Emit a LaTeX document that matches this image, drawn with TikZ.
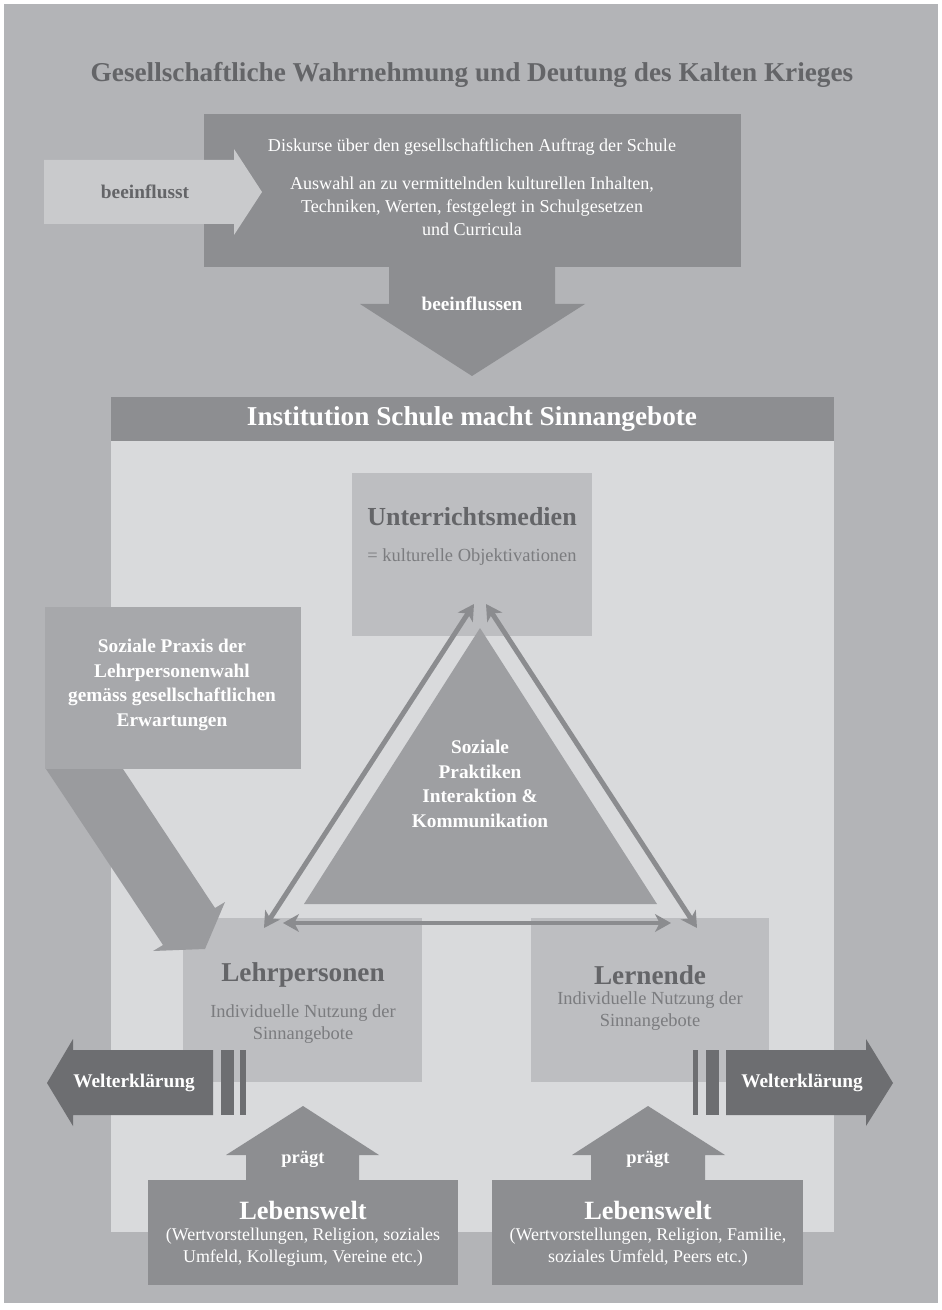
\documentclass[tikz,border=0pt]{standalone}
\usepackage{fontspec}
\setmainfont{Liberation Serif}
\usetikzlibrary{arrows.meta}

\definecolor{bgouter}{HTML}{B3B4B7}
\definecolor{bgpanel}{HTML}{D9DADC}
\definecolor{darkbox}{HTML}{8D8E91}
\definecolor{lightarrow}{HTML}{C9CACC}
\definecolor{midbox}{HTML}{BDBEC1}
\definecolor{praxisbox}{HTML}{A7A8AB}
\definecolor{praxisarrow}{HTML}{9A9B9E}
\definecolor{tribox}{HTML}{9E9FA2}
\definecolor{thinarrow}{HTML}{8B8C8F}
\definecolor{weltbox}{HTML}{6D6E71}
\definecolor{greytext}{HTML}{646568}

\tikzset{
  txt/.style={inner sep=0pt, align=center},
  whitebig/.style={txt, text=white, font=\bfseries\fontsize{15.5}{18}\selectfont},
  whitemid/.style={txt, text=white, font=\bfseries\fontsize{11}{14}\selectfont},
  whitesmall/.style={txt, text=white, font=\fontsize{10.3}{13}\selectfont},
  greybig/.style={txt, text=greytext, font=\bfseries\fontsize{14.8}{17}\selectfont},
  greysmall/.style={txt, text=greytext!85!white, font=\fontsize{10.5}{12.5}\selectfont},
  thinarr/.style={draw=thinarrow, line width=2.8pt,
    {Stealth[length=9pt,width=10pt,inset=2.5pt]}-{Stealth[length=9pt,width=10pt,inset=2.5pt]}}
}

\begin{document}
\begin{tikzpicture}[x=0.02cm,y=-0.02cm]
\useasboundingbox (0,0) rectangle (941,1310);
\fill[white] (0,0) rectangle (941,1310);
\fill[bgouter] (4,4) rectangle (938,1303);

\node[txt, text=greytext, font=\bfseries\fontsize{15.5}{18}\selectfont] (title) at (472,75)
  {Gesellschaftliche Wahrnehmung und Deutung des Kalten Krieges};

% Diskurse
\fill[darkbox] (204,114) rectangle (741,267);
\node[whitesmall] (diskurs) at (472,147) {Diskurse über den gesellschaftlichen Auftrag der Schule};
\node[whitesmall] (auswahl) at (472,206) {Auswahl an zu vermittelnden kulturellen Inhalten,\\
  Techniken, Werten, festgelegt in Schulgesetzen\\ und Curricula};

\fill[lightarrow] (44,160) -- (234,160) -- (234,149) -- (262,192) -- (234,235) -- (234,224) -- (44,224) -- cycle;
\node[txt, text=greytext, font=\bfseries\fontsize{11}{13}\selectfont] (beeinflusst) at (145,192) {beeinflusst};

\fill[darkbox] (389,266) -- (555,266) -- (555,304) -- (585,304) -- (472,376) -- (360,304) -- (389,304) -- cycle;
\node[whitemid] (beeinflussen) at (472,304) {beeinflussen};

% Institution Schule
\fill[bgpanel] (111,441) rectangle (834,1232);
\fill[darkbox] (111,397) rectangle (834,441);
\node[whitebig] (schule) at (472,419) {Institution Schule macht Sinnangebote};

\fill[midbox] (352,473) rectangle (592,636);
\node[greybig] (medien) at (472,517) {Unterrichtsmedien};
\node[greysmall] (medienSub) at (472,557) {= kulturelle Objektivationen};

\fill[midbox] (183,918) rectangle (422,1082);
\node[greybig, font=\bfseries\fontsize{15.5}{18}\selectfont] (lehr) at (303,975) {Lehrpersonen};
\node[greysmall] (lehrSub) at (303,1024) {Individuelle Nutzung der\\ Sinnangebote};

\fill[midbox] (531,918) rectangle (769,1082);
\node[greybig, font=\bfseries\fontsize{15.5}{18}\selectfont] (lern) at (650,975) {Lernende};
\node[greysmall] (lernSub) at (650,1011) {Individuelle Nutzung der\\ Sinnangebote};

\fill[praxisbox] (45,607) rectangle (301,769);
\node[whitemid] (praxis) at (172,685) {Soziale Praxis der\\ Lehrpersonenwahl\\ gemäss gesellschaftlichen\\ Erwartungen};
\fill[praxisarrow] (46,769) -- (123,769) -- (215,908) -- (225,902) -- (205,949) -- (153,951) -- (163,945) -- cycle;

\coordinate (apex) at (480,628);
\coordinate (baseL) at (304,904);
\coordinate (baseR) at (657,904);
\fill[tribox] (apex) -- (baseR) -- (baseL) -- cycle;
\node[whitemid] (praktiken) at (480,784) {Soziale\\ Praktiken\\ Interaktion \&\\ Kommunikation};

\coordinate (medienL) at (474,604);
\coordinate (medienR) at (486,604);
\coordinate (lehrTop) at (264,928);
\coordinate (lernTop) at (697,928);
\coordinate (lehrIn) at (283,923);
\coordinate (lernIn) at (671,923);
\draw[thinarr] (lehrTop) -- (medienL);
\draw[thinarr] (lernTop) -- (medienR);
\draw[thinarr] (lehrIn) -- (lernIn);

% Welterklaerung
\fill[weltbox] (213,1050) -- (73,1050) -- (73,1039) -- (47,1083) -- (73,1126) -- (73,1115) -- (213,1115) -- cycle;
\fill[weltbox] (221,1050) rectangle (234,1115);
\fill[weltbox] (240,1050) rectangle (246,1115);
\node[whitemid] (weltL) at (134,1083) {Welterklärung};

\fill[weltbox] (693,1050) rectangle (698,1115);
\fill[weltbox] (706,1050) rectangle (719,1115);
\fill[weltbox] (726,1050) -- (866,1050) -- (866,1039) -- (893,1083) -- (866,1126) -- (866,1115) -- (726,1115) -- cycle;
\node[whitemid] (weltR) at (802,1083) {Welterklärung};

% Lebenswelt
\fill[darkbox] (246,1181) -- (246,1155) -- (226,1155) -- (303,1106) -- (379,1155) -- (359,1155) -- (359,1181) -- cycle;
\node[whitemid, font=\bfseries\fontsize{10.5}{13}\selectfont] (praegtL) at (303,1159) {prägt};
\fill[darkbox] (591,1181) -- (591,1155) -- (572,1155) -- (648,1106) -- (725,1155) -- (705,1155) -- (705,1181) -- cycle;
\node[whitemid, font=\bfseries\fontsize{10.5}{13}\selectfont] (praegtR) at (648,1159) {prägt};

\fill[darkbox] (148,1180) rectangle (458,1285);
\node[whitebig, font=\bfseries\fontsize{15}{18}\selectfont] (lebenL) at (303,1210) {Lebenswelt};
\node[whitesmall, font=\fontsize{10.2}{12.5}\selectfont] (lebenLSub) at (303,1247) {(Wertvorstellungen, Religion, soziales\\ Umfeld, Kollegium, Vereine etc.)};

\fill[darkbox] (492,1180) rectangle (803,1285);
\node[whitebig, font=\bfseries\fontsize{15}{18}\selectfont] (lebenR) at (648,1210) {Lebenswelt};
\node[whitesmall, font=\fontsize{10.2}{12.5}\selectfont] (lebenRSub) at (648,1247) {(Wertvorstellungen, Religion, Familie,\\ soziales Umfeld, Peers etc.)};
\end{tikzpicture}
\end{document}
